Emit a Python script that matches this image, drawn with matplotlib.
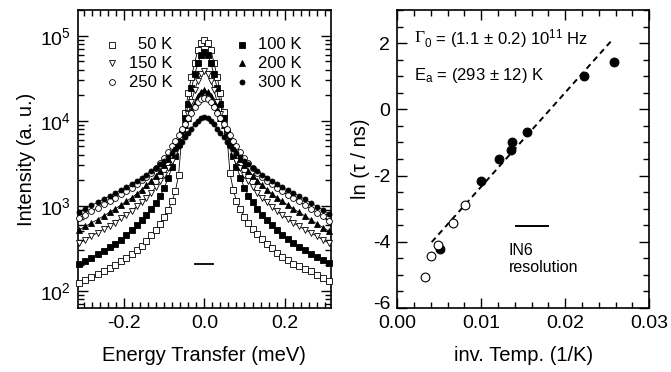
import numpy as np
import matplotlib
matplotlib.use('Agg')
import matplotlib.pyplot as plt
import matplotlib.transforms as mtransforms
from matplotlib.ticker import MultipleLocator, LogLocator, NullFormatter

plt.rcParams['font.family'] = ['Liberation Sans', 'DejaVu Sans']
plt.rcParams['mathtext.fontset'] = 'custom'
plt.rcParams['mathtext.rm'] = 'Liberation Sans'
plt.rcParams['mathtext.it'] = 'Liberation Sans:italic'
plt.rcParams['axes.unicode_minus'] = False

# left panel: quasielastic spectra
energy = [-0.311, -0.296, -0.281, -0.266, -0.251, -0.236, -0.222, -0.208, -0.194, -0.181,
          -0.168, -0.156, -0.144, -0.132, -0.121, -0.110, -0.100, -0.090, -0.080, -0.072,
          -0.064, -0.056, -0.048, -0.040, -0.032, -0.024, -0.016, -0.008, 0.0,
          0.008, 0.016, 0.024, 0.032, 0.040, 0.048, 0.056, 0.064, 0.072, 0.080,
          0.090, 0.100, 0.110, 0.121, 0.132, 0.144, 0.156, 0.168, 0.181, 0.194,
          0.208, 0.222, 0.236, 0.251, 0.266, 0.281, 0.296, 0.311]

int_50K = [124, 135, 147, 160, 173, 187, 203, 222, 245, 270, 300, 340, 390, 450, 520, 610, 730, 900,
           1130, 1500, 2300, 6700, 12400, 21000, 33000, 48000, 68000, 83000, 89000,
           83000, 68000, 48000, 33000, 21000, 12600, 6900, 2400, 1550, 1150, 910, 740, 630, 540,
           470, 410, 355, 316, 282, 251, 229, 209, 195, 182, 170, 155, 141, 132]
int_100K = [208, 225, 247, 270, 298, 327, 360, 402, 452, 520, 595, 685, 785, 925, 1090, 1310, 1610,
            2130, 2900, 3900, 5400, 7400, 10700, 15800, 24000, 35000, 48000, 60000, 64600,
            60000, 48000, 35000, 24000, 15800, 10700, 7400, 5400, 3900, 2900, 2140, 1620, 1320,
            1100, 930, 790, 690, 600, 525, 457, 407, 363, 331, 302, 275, 251, 229, 214]
int_150K = [365, 402, 440, 482, 530, 580, 636, 712, 780, 875, 985, 1105, 1240, 1420, 1670, 1960,
            2300, 2760, 3400, 4180, 5250, 6800, 8900, 12000, 16600, 23000, 29500, 35500, 38000,
            35500, 29500, 23000, 16600, 12000, 8900, 6800, 5250, 4170, 3390, 2750, 2290, 1950,
            1660, 1410, 1230, 1100, 980, 870, 776, 708, 631, 575, 525, 479, 437, 398, 363]
int_200K = [525, 575, 630, 690, 760, 840, 920, 1020, 1130, 1250, 1390, 1550, 1740, 1980, 2250,
            2600, 3000, 3550, 4250, 5000, 6000, 7200, 8800, 10800, 13200, 16200, 19500, 22000, 23000,
            22000, 19500, 16200, 13200, 10800, 8800, 7200, 6000, 5000, 4250, 3550, 3000, 2600,
            2250, 1980, 1740, 1550, 1390, 1250, 1130, 1020, 920, 840, 760, 680, 615, 555, 500]
int_250K = [720, 790, 870, 950, 1040, 1140, 1250, 1360, 1490, 1630, 1800, 1990, 2210, 2430, 2760,
            3150, 3650, 4250, 5000, 5800, 6800, 7900, 9200, 10700, 12500, 14500, 16500, 18000, 18600,
            18000, 16500, 14500, 12500, 10700, 9200, 7900, 6800, 5800, 5000, 4250, 3650, 3150,
            2750, 2420, 2200, 1980, 1790, 1620, 1480, 1350, 1240, 1130, 1010, 920, 830, 750, 670]
int_300K = [850, 930, 1010, 1100, 1200, 1300, 1410, 1530, 1660, 1800, 1960, 2130, 2330, 2550, 2800,
            3100, 3400, 3750, 4200, 4600, 5100, 5700, 6400, 7200, 8100, 9100, 10000, 10700, 11000,
            10700, 10000, 9100, 8100, 7200, 6400, 5700, 5100, 4600, 4200, 3750, 3400, 3100,
            2800, 2550, 2330, 2130, 1960, 1800, 1660, 1530, 1410, 1300, 1190, 1080, 980, 890, 800]

res_left_x = [-0.0225, 0.0225]
res_left_y = [205, 205]

# right panel: Arrhenius plot
invT_open = [0.00333, 0.0040, 0.0049, 0.00667, 0.0081]
lntau_open = [-5.07, -4.44, -4.11, -3.42, -2.90]
invT_filled = [0.0051, 0.0100, 0.0121, 0.0135, 0.0137, 0.0155, 0.0222, 0.0258]
lntau_filled = [-4.21, -2.17, -1.50, -1.23, -0.98, -0.68, 1.02, 1.42]
fit_x = [0.0041, 0.0257]
fit_y = [-4.01, 2.13]
res_right_x = [0.0141, 0.0180]
res_right_y = [-3.53, -3.53]

fig = plt.figure(figsize=(6.71, 3.72), dpi=100)
ax1 = fig.add_axes([0.116, 0.172, 0.377, 0.801])
ax2 = fig.add_axes([0.592, 0.172, 0.3756, 0.801])

series = [
    (int_50K, 's', 'white', '50 K'),
    (int_100K, 's', 'black', '100 K'),
    (int_150K, 'v', 'white', '150 K'),
    (int_200K, '^', 'black', '200 K'),
    (int_250K, 'o', 'white', '250 K'),
    (int_300K, 'o', 'black', '300 K'),
]
# legend slots (axes fraction): marker x, text right edge x, row y
leg_pos = {'50 K': (0.134, 0.375, 0.883), '150 K': (0.134, 0.375, 0.822),
           '250 K': (0.134, 0.375, 0.758), '100 K': (0.648, 0.885, 0.883),
           '200 K': (0.648, 0.885, 0.822), '300 K': (0.648, 0.885, 0.758)}

for vals, m, fc, lab in series:
    ms = 3.6 if (m == 'o' and fc == 'black') else 4.2
    ax1.plot(energy, vals, '-', color='black', lw=0.6, zorder=2)
    ax1.plot(energy, vals, ls='none', marker=m, ms=ms, mfc=fc, mec='black',
             mew=0.6, zorder=3, clip_on=False)
    mx, tx, ty = leg_pos[lab]
    ax1.plot([mx], [ty], marker=m, ms=ms, mfc=fc, mec='black', mew=0.6, ls='none',
             transform=ax1.transAxes)
    ax1.text(tx, ty, lab, transform=ax1.transAxes, ha='right', va='center', fontsize=12)
ax1.plot(res_left_x, res_left_y, color='black', lw=1.3)

ax1.set_yscale('log')
ax1.set_xlim(-0.315, 0.315)
ax1.set_ylim(63, 2.0e5)
ax1.xaxis.set_major_locator(MultipleLocator(0.2))
ax1.xaxis.set_minor_locator(MultipleLocator(0.02))
ax1.yaxis.set_major_locator(LogLocator(base=10))
ax1.yaxis.set_minor_locator(LogLocator(base=10, subs=np.arange(2, 10)))
ax1.yaxis.set_minor_formatter(NullFormatter())
ax1.xaxis.set_major_formatter(plt.FuncFormatter(lambda v, p: '%.1f' % v))
ax1.set_xlabel('Energy Transfer (meV)', fontsize=14.5, labelpad=10)
ax1.set_ylabel('Intensity (a. u.)', fontsize=14.5, labelpad=3)

# right panel
ax2.plot(fit_x, fit_y, color='black', lw=1.4, ls=(0, (3, 2.2)))
ax2.plot(invT_filled, lntau_filled, 'o', ms=6.3, mfc='black', mec='black', mew=0.8)
ax2.plot(invT_open, lntau_open, 'o', ms=6.3, mfc='white', mec='black', mew=0.8)
ax2.plot(res_right_x, res_right_y, color='black', lw=1.4)
ax2.text(0.0133, -4.05, 'IN6\nresolution', fontsize=11.5, va='top', ha='left', linespacing=1.1)
ax2.text(0.067, 0.905, 'Γ', family='Liberation Serif', transform=ax2.transAxes,
         fontsize=12.5, va='center')
ax2.annotate(r'$_0$ = (1.1 $\pm$ 0.2) 10$^{11}$ Hz', xy=(0.067, 0.905),
             xycoords='axes fraction', xytext=(7.2, 0), textcoords='offset points',
             fontsize=12, va='center')
ax2.text(0.067, 0.78, r'E$_\mathrm{a}$ = (293 $\pm$ 12) K',
         transform=ax2.transAxes, fontsize=12, va='center')
ax2.set_xlim(0, 0.03)
ax2.set_ylim(-6, 3)
ax2.xaxis.set_major_locator(MultipleLocator(0.01))
ax2.xaxis.set_minor_locator(MultipleLocator(0.002))
ax2.yaxis.set_major_locator(MultipleLocator(2))
ax2.yaxis.set_minor_locator(MultipleLocator(0.5))
ax2.xaxis.set_major_formatter(plt.FuncFormatter(lambda v, p: '%.2f' % v))
ax2.set_xlabel('inv. Temp. (1/K)', fontsize=14.5, labelpad=10)
ax2.set_ylabel('ln (τ / ns)', fontsize=14.5, labelpad=2)

for ax in (ax1, ax2):
    ax.tick_params(which='both', direction='in', top=True, right=True, labelsize=14, width=1.0)
    ax.tick_params(which='major', length=7, pad=5)
    ax.tick_params(which='minor', length=4)
    for s in ax.spines.values():
        s.set_linewidth(1.2)

# lift the "-6" label a little so it does not run into "0.00"
fig.canvas.draw()
lift = mtransforms.ScaledTranslation(0, 4 / 72, fig.dpi_scale_trans)
for tick in ax2.yaxis.get_major_ticks():
    if abs(tick.get_loc() + 6) < 1e-9:
        tick.label1.set_transform(tick.label1.get_transform() + lift)

fig.savefig('out.png', dpi=100)
